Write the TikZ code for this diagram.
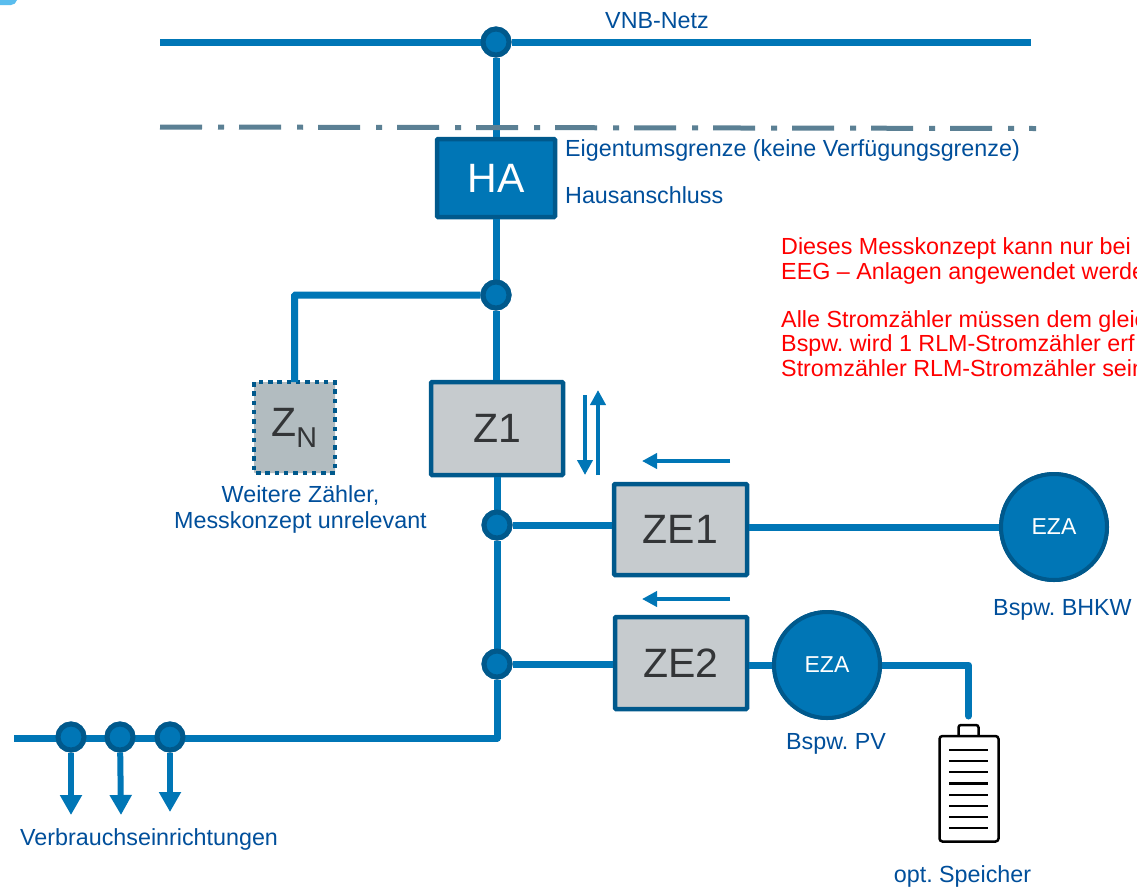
\documentclass[tikz,border=0pt]{standalone}
\usepackage{fontspec}
\setmainfont{Liberation Sans}
\usetikzlibrary{arrows.meta}
\definecolor{wire}{HTML}{0076B6}
\definecolor{rim}{HTML}{00598C}
\definecolor{lab}{HTML}{004F9B}
\definecolor{meter}{HTML}{C6CBCE}
\definecolor{meterN}{HTML}{B2BCC0}
\definecolor{bound}{HTML}{5B8094}
\definecolor{ink}{HTML}{333537}
\definecolor{tab}{HTML}{5ABDEE}
\tikzset{
  wireline/.style={draw=wire,line width=7pt},
  joint/.style={circle,draw=rim,fill=wire,line width=5pt,minimum size=26pt,inner sep=0pt},
  metbox/.style={rectangle,draw=rim,fill=meter,line width=4.5pt,rounded corners=1pt,inner sep=0pt,text=ink,font=\fontsize{41}{41}\selectfont},
  eza/.style={circle,draw=rim,fill=wire,line width=4pt,minimum size=106pt,inner sep=0pt,text=white,font=\fontsize{23}{23}\selectfont},
  lbl/.style={inner sep=0pt,text=lab,font=\fontsize{23.3}{26}\selectfont},
  note/.style={inner sep=0pt,anchor=base west,text=red,font=\fontsize{23.3}{23.3}\selectfont},
  flow/.style={draw=wire,line width=4.5pt,-{Triangle[length=15pt,width=15pt]}},
  load/.style={draw=wire,line width=6pt,-{Triangle[length=20pt,width=21pt]}},
  cell/.style={draw=black,line width=2.5pt}
}
\begin{document}
\frenchspacing
\begin{tikzpicture}[x=1pt,y=-1pt]
\useasboundingbox (0,0) rectangle (1137,887);
\clip (0,0) rectangle (1137,887);
\fill[fill=white] (0,0) rectangle (1137,887);
\fill[fill=tab] (0,0) -- (17,0) .. controls (16,3) and (14,5) .. (11,5) -- (0,5) -- cycle;
% boxes
\node[metbox,fill=wire,text=white,minimum width=118pt,minimum height=78pt] (HA) at (496,178) {HA};
\node[metbox,minimum width=132pt,minimum height=93pt] (Z1) at (497,428.5) {Z1};
\node[metbox,fill=meterN,draw=none,outer sep=0pt,minimum width=81pt,minimum height=91pt] (ZN) at (294.5,427.5) {Z\textsubscript{N}};
\draw[rim,line width=4.5pt,dash pattern=on 4.5pt off 4.8pt] (ZN.north west) rectangle (ZN.south east);
\node[metbox,minimum width=133pt,minimum height=91pt] (ZE1) at (680.5,529.5) {ZE1};
\node[metbox,minimum width=132pt,minimum height=92pt] (ZE2) at (681,663) {ZE2};
\node[eza] (EZA1) at (1054,527) {EZA};
\node[eza] (EZA2) at (827,665) {EZA};
% joints
\node[joint] (J0) at (496,42) {};
\node[joint] (J1) at (496,295) {};
\node[joint] (J2) at (497,525) {};
\node[joint] (J3) at (497,664) {};
\node[joint] (C1) at (71,737) {};
\node[joint] (C2) at (120,737) {};
\node[joint] (C3) at (170,737) {};
% free ends
\coordinate (gridL) at (160,42);
\coordinate (gridR) at (1031,42);
\coordinate (feedL) at (14,738);
\coordinate (corner) at (497,738);
\coordinate (storeTop) at (968.5,716);
\coordinate (boundL) at (160,127);
\coordinate (boundR) at (1036,128.5);
\coordinate (D1) at (71,815);
\coordinate (D2) at (121,815);
\coordinate (D3) at (170,812);
\coordinate (fdA) at (585,395);
\coordinate (fdB) at (585,475);
\coordinate (fuA) at (598,475);
\coordinate (fuB) at (598,390);
\coordinate (e1A) at (730,461);
\coordinate (e1B) at (642,461);
\coordinate (e2A) at (730,599);
\coordinate (e2B) at (642,599);
% wires
\draw[wireline] (gridL) -- (J0) -- (gridR);
\draw[wireline] (J0) -- (HA.north);
\draw[wireline] (HA.south) -- (J1);
\draw[wireline] (J1) -- (J1 |- Z1.north);
\draw[wireline,rounded corners=1pt] (J1) -| (ZN.north);
\draw[wireline] (J2 |- Z1.south) -- (J2);
\draw[wireline] (J2) -- (J3);
\draw[wireline] (J2) -- (J2 -| ZE1.west);
\draw[wireline] (ZE1.east |- EZA1) -- (EZA1);
\draw[wireline] (J3) -- (ZE2.west |- J3);
\draw[wireline] (ZE2.east |- EZA2) -- (EZA2);
\draw[wireline,line join=round] (J3) -- (corner) -- (feedL);
\draw[wireline,line join=round,line cap=round] (EZA2.east) -| (storeTop);
% redraw of nodes crossed by wires
\node[eza] at (EZA1) {EZA};
\node[eza] at (EZA2) {EZA};
\node[joint] at (J0) {};
\node[joint] at (J3) {};
\node[joint] at (J2) {};
\node[joint] at (J1) {};
\draw[load] (C1) -- (D1);
\draw[load] (C2) -- (D2);
\draw[load] (C3) -- (D3);
\node[joint] at (C1) {};
\node[joint] at (C2) {};
\node[joint] at (C3) {};
% boundary
\draw[bound,line width=5pt,dash pattern=on 42pt off 16pt on 6pt off 15pt] (boundL) -- (boundR);
% flow arrows
\draw[flow] (fdA) -- (fdB);
\draw[flow] (fuA) -- (fuB);
\draw[flow] (e1A) -- (e1B);
\draw[flow] (e2A) -- (e2B);
% battery
\draw[cell,rounded corners=2.5pt,fill=white] (958.5,736) -- (958.5,725) -- (978.5,725) -- (978.5,736);
\draw[cell,rounded corners=3pt,fill=white] (939.5,736) rectangle (998.5,841.5);
\foreach \yy in {750,761,772,783.5,795,806,817,828}
  \draw[cell] (949,\yy) -- (988,\yy);
% labels
\node[lbl] (tVNB) at (657,21) {VNB-Netz};
\node[lbl,anchor=west] (tEig) at (565,150) {Eigentumsgrenze (keine Verfügungsgrenze)};
\node[lbl,anchor=west] (tHaus) at (565,195) {Hausanschluss};
\node[lbl,align=center] (tWei) at (300.5,509) {Weitere Zähler,\\Messkonzept unrelevant};
\node[lbl,anchor=west] (tBH) at (993,610) {Bspw. BHKW};
\node[lbl] (tPV) at (836,744) {Bspw. PV};
\node[lbl] (tSp) at (962.5,876) {opt. Speicher};
\node[lbl,anchor=west] (tVer) at (20,839) {Verbrauchseinrichtungen};
\node[note] (r1) at (781,254) {Dieses Messkonzept kann nur bei};
\node[note] (r2) at (781,279) {EEG – Anlagen angewendet werde};
\node[note] (r3) at (781,327) {Alle Stromzähler müssen dem gleic};
\node[note] (r4) at (781,351) {Bspw. wird 1 RLM-Stromzähler erf};
\node[note] (r5) at (781,376) {Stromzähler RLM-Stromzähler sein};
\end{tikzpicture}
\end{document}
